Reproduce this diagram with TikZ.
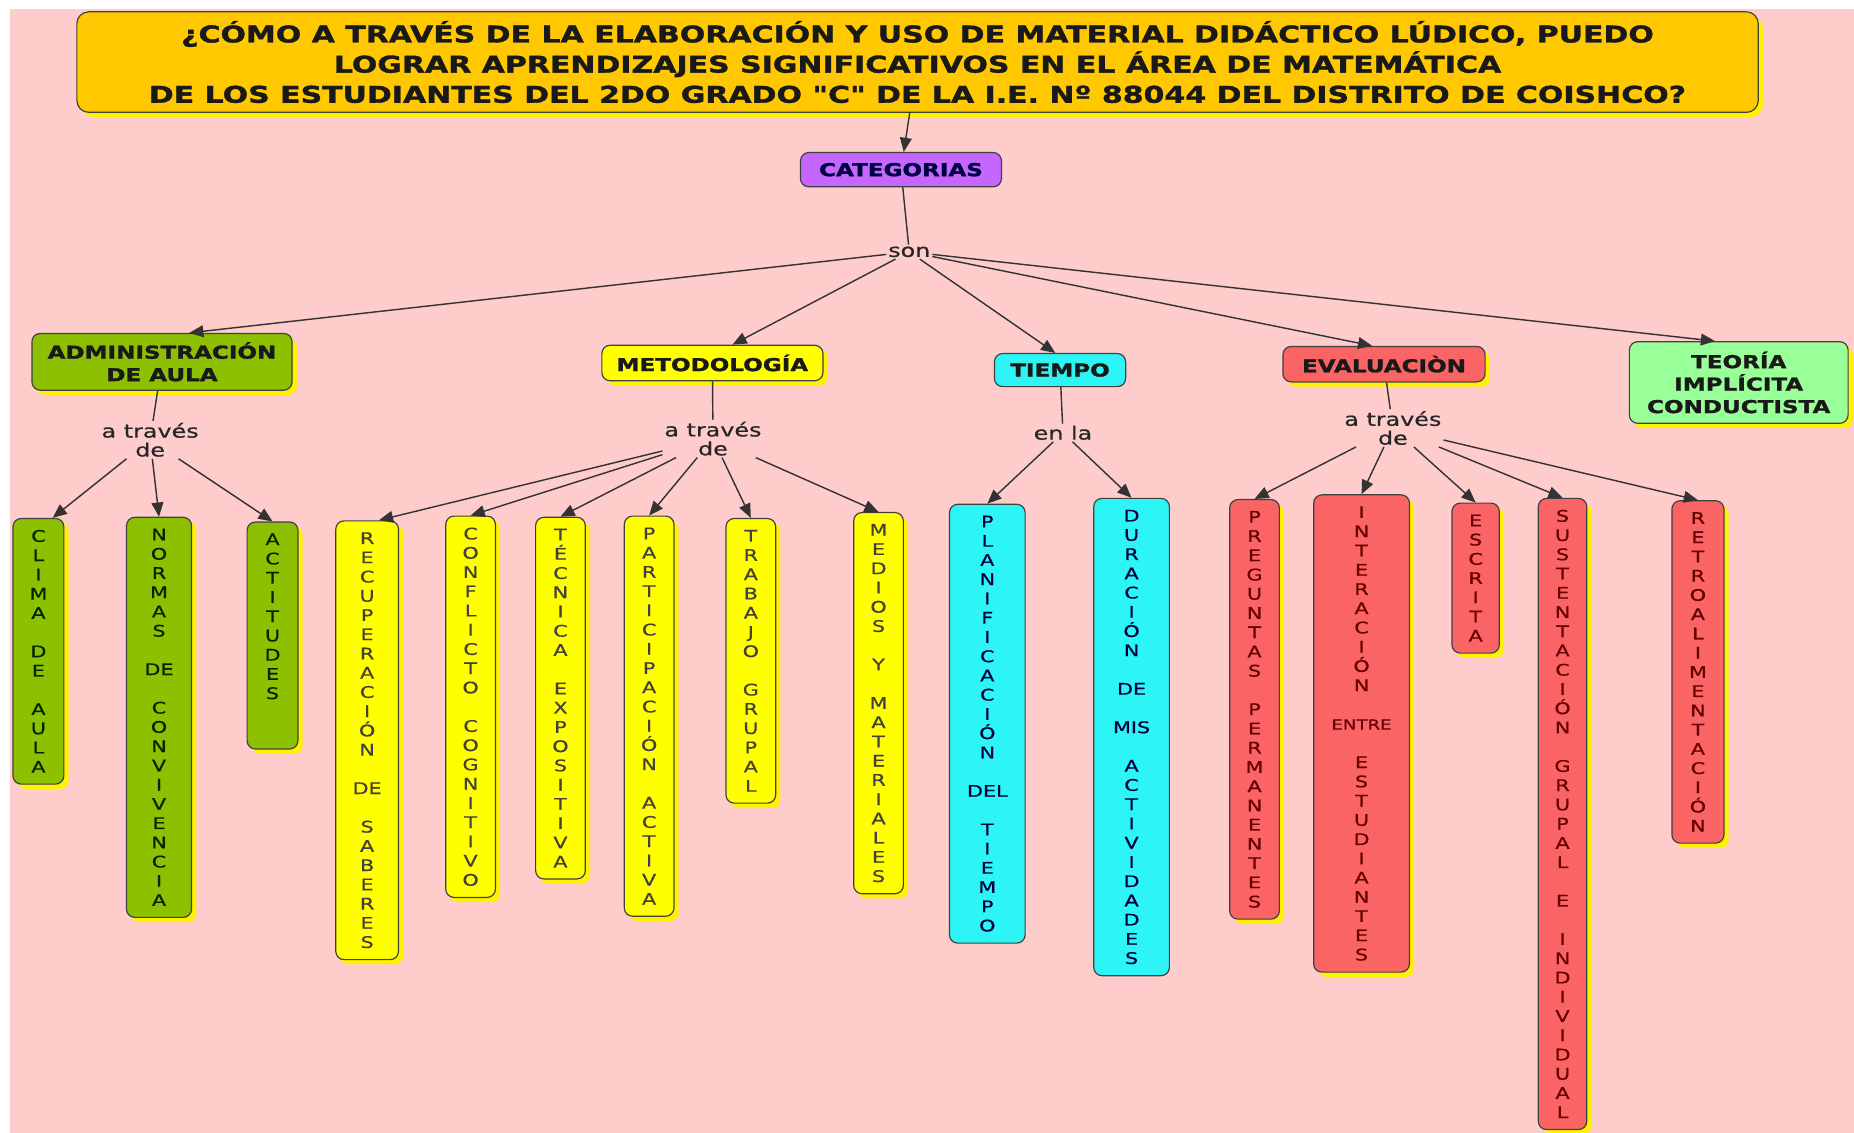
\documentclass[tikz,border=0pt]{standalone}
\usepackage{fontspec}
\usepackage{tikz}
\usetikzlibrary{shapes,arrows.meta,shadows}

\newfontfamily\mapfont[FakeStretch=1.3,FakeBold=0.6]{DejaVu Sans}
\newfontfamily\negrafont[FakeStretch=1.3,FakeBold=1.5]{DejaVu Sans Bold}

\definecolor{fondo}{HTML}{FFCCCC}
\definecolor{oro}{HTML}{FFC800}
\definecolor{lila}{HTML}{C466FF}
\definecolor{oliva}{HTML}{8DC000}
\definecolor{amarillo}{HTML}{FFFF00}
\definecolor{celeste}{HTML}{2EF5F5}
\definecolor{rojo}{HTML}{FA6464}
\definecolor{menta}{HTML}{99FF99}

\begin{document}
\begin{tikzpicture}[x=1pt,y=-1pt]
	\tikzset{
		concepto/.style={draw=black!75,line width=1pt,rounded corners=7pt,align=center,inner sep=0pt,text=black!90,font=\negrafont\fontsize{15}{19}\selectfont},
		sombra/.style={drop shadow={shadow xshift=4pt,shadow yshift=-4pt,fill=yellow,opacity=1}},
		vertical/.style={draw=black!75,line width=1pt,rounded corners=7pt,align=center,anchor=north,inner xsep=0pt,inner ysep=9.7pt,font=\mapfont\fontsize{13.5}{16.27}\selectfont},
		verde/.style={vertical,sombra,fill=oliva,text=black!85!green},
		amar/.style={vertical,sombra,fill=amarillo,text=black!85!yellow},
		ciano/.style={vertical,fill=celeste,text=black!75!blue},
		roja/.style={vertical,sombra,fill=rojo,text=black!60!red},
		enlace/.style={align=center,inner sep=1.5pt,font=\mapfont\fontsize{15.5}{16}\selectfont,text=black!85},
		flecha/.style={draw=black!80,line width=1.2pt,-{Triangle[length=12pt,width=10pt]}},
		linea/.style={draw=black!80,line width=1.2pt}
	}
	\useasboundingbox (0,0) rectangle (1568,958);
	\fill[white] (0,0) rectangle (1568,958);
	\fill[fondo] (8.5,7.6) rectangle (1568,958);

	% pregunta y categorias
	\node (preg) at (776,52.5) [concepto,sombra,fill=oro,rounded corners=10pt,minimum width=1422pt,minimum height=85pt,font=\negrafont\fontsize{19.5}{25.5}\selectfont]{¿CÓMO A TRAVÉS DE LA ELABORACIÓN Y USO DE MATERIAL DIDÁCTICO LÚDICO, PUEDO\\LOGRAR APRENDIZAJES SIGNIFICATIVOS EN EL ÁREA DE MATEMÁTICA\\DE LOS ESTUDIANTES DEL 2DO GRADO "C" DE LA I.E. Nº 88044 DEL DISTRITO DE COISHCO?};
	\node (cat) at (762,143.5) [concepto,fill=lila,text=blue!25!black,minimum width=170pt,minimum height=29pt]{CATEGORIAS};
	\node (son) at (769,213) [enlace]{son};

	% categorias
	\node (admin) at (137,306) [concepto,sombra,fill=oliva,minimum width=220pt,minimum height=48pt]{ADMINISTRACIÓN\\DE AULA};
	\node (meto) at (602.5,307) [concepto,sombra,fill=amarillo,minimum width=187pt,minimum height=30pt]{METODOLOGÍA};
	\node (tiempo) at (896.5,313) [concepto,fill=celeste,minimum width=111pt,minimum height=28pt]{TIEMPO};
	\node (eval) at (1170.5,308) [concepto,sombra,fill=rojo,minimum width=171pt,minimum height=30pt]{EVALUACIÒN};
	\node (teoria) at (1470.5,323.5) [concepto,sombra,fill=menta,minimum width=185pt,minimum height=69pt]{TEORÍA\\IMPLÍCITA\\CONDUCTISTA};

	\node (atA) at (127,372) [enlace]{a través\\de};
	\node (atM) at (603,371) [enlace]{a través\\de};
	\node (enT) at (899,366) [enlace]{en la};
	\node (atE) at (1178,362) [enlace]{a través\\de};

	% administracion de aula
	\node (clima) at (32.5,438) [verde,minimum width=43pt]{C\\L\\I\\M\\A\\~\\D\\E\\~\\A\\U\\L\\A};
	\node (normas) at (134.5,437) [verde,minimum width=55pt]{N\\O\\R\\M\\A\\S\\~\\DE\\~\\C\\O\\N\\V\\I\\V\\E\\N\\C\\I\\A};
	\node (actit) at (230.5,441) [verde,minimum width=43pt]{A\\C\\T\\I\\T\\U\\D\\E\\S\\~\\~};

	% metodologia
	\node (recup) at (310.5,440) [amar,minimum width=53pt]{R\\E\\C\\U\\P\\E\\R\\A\\C\\I\\Ó\\N\\~\\DE\\~\\S\\A\\B\\E\\R\\E\\S};
	\node (confl) at (398,436) [amar,minimum width=42pt]{C\\O\\N\\F\\L\\I\\C\\T\\O\\~\\C\\O\\G\\N\\I\\T\\I\\V\\O};
	\node (tecn) at (474,437) [amar,minimum width=42pt]{T\\É\\C\\N\\I\\C\\A\\~\\E\\X\\P\\O\\S\\I\\T\\I\\V\\A};
	\node (partic) at (549,436) [amar,minimum width=42pt]{P\\A\\R\\T\\I\\C\\I\\P\\A\\C\\I\\Ó\\N\\~\\A\\C\\T\\I\\V\\A};
	\node (trab) at (635,438) [amar,minimum width=42pt]{T\\R\\A\\B\\A\\J\\O\\~\\G\\R\\U\\P\\A\\L};
	\node (medios) at (743,433) [amar,minimum width=42pt]{M\\E\\D\\I\\O\\S\\~\\Y\\~\\M\\A\\T\\E\\R\\I\\A\\L\\E\\S};

	% tiempo
	\node (planif) at (835,426) [ciano,minimum width=64pt]{P\\L\\A\\N\\I\\F\\I\\C\\A\\C\\I\\Ó\\N\\~\\DEL\\~\\T\\I\\E\\M\\P\\O};
	\node (durac) at (957,421) [ciano,minimum width=64pt]{D\\U\\R\\A\\C\\I\\Ó\\N\\~\\DE\\~\\MIS\\~\\A\\C\\T\\I\\V\\I\\D\\A\\D\\E\\S};

	% evaluacion
	\node (pregp) at (1061,422) [roja,minimum width=42pt]{P\\R\\E\\G\\U\\N\\T\\A\\S\\~\\P\\E\\R\\M\\A\\N\\E\\N\\T\\E\\S};
	\node (inter) at (1151.5,418) [roja,minimum width=81pt]{I\\N\\T\\E\\R\\A\\C\\I\\Ó\\N\\~\\{\fontsize{11.8}{16.27}\selectfont ENTRE}\\~\\E\\S\\T\\U\\D\\I\\A\\N\\T\\E\\S};
	\node (escr) at (1248,425) [roja,minimum width=40pt]{E\\S\\C\\R\\I\\T\\A};
	\node (sust) at (1321.5,421) [roja,minimum width=41pt]{S\\U\\S\\T\\E\\N\\T\\A\\C\\I\\Ó\\N\\~\\G\\R\\U\\P\\A\\L\\~\\E\\~\\I\\N\\D\\I\\V\\I\\D\\U\\A\\L};
	\node (retro) at (1436,423) [roja,minimum width=44pt]{R\\E\\T\\R\\O\\A\\L\\I\\M\\E\\N\\T\\A\\C\\I\\Ó\\N};

	% conectores
	\draw[flecha] (preg) -- (cat);
	\draw[linea] (cat) -- (son);
	\draw[flecha] (son) -- ([xshift=23pt]admin.north);
	\draw[flecha] (son) -- ([xshift=17pt]meto.north);
	\draw[flecha] (son) -- ([xshift=-4pt]tiempo.north);
	\draw[flecha] (son) -- ([xshift=-10pt]eval.north);
	\draw[flecha] (son) -- ([xshift=-20pt]teoria.north);
	\draw[linea] (admin) -- (atA);
	\draw[linea] (meto) -- (atM);
	\draw[linea] (tiempo) -- (enT);
	\draw[linea] (eval) -- (atE);
	\draw[flecha] (atA) -- ([xshift=12pt]clima.north);
	\foreach \c in {normas,actit}
		\draw[flecha] (atA) -- (\c.north);
	\draw[flecha] (atM) -- ([xshift=10pt]recup.north);
	\foreach \c in {confl,tecn,partic,trab,medios}
		\draw[flecha] (atM) -- (\c.north);
	\foreach \c in {planif,durac}
		\draw[flecha] (enT) -- (\c.north);
	\foreach \c in {pregp,inter,escr,sust,retro}
		\draw[flecha] (atE) -- (\c.north);
\end{tikzpicture}
\end{document}
